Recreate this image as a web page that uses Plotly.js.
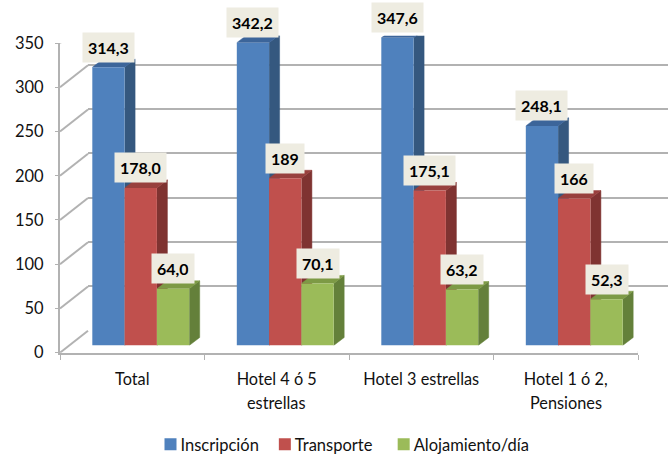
<!DOCTYPE html>
<html><head><meta charset="utf-8">
<script src="https://cdn.plot.ly/plotly-3.0.1.min.js"></script>
<style>html,body{margin:0;padding:0;background:#fff}</style></head>
<body><div id="chart" style="width:668px;height:454px"></div>
<script>
const categories = ["Total","Hotel 4 ó 5","Hotel 3 estrellas","Hotel 1 ó 2,"];
const categoriesLine2 = ["","estrellas","","Pensiones"];
const inscripcion = [314.3,342.2,347.6,248.1];
const transporte = [178.0,189,175.1,166];
const alojamiento = [64.0,70.1,63.2,52.3];
const inscripcionLabels = ["314,3","342,2","347,6","248,1"];
const transporteLabels = ["178,0","189","175,1","166"];
const alojamientoLabels = ["64,0","70,1","63,2","52,3"];
const yTicks = [0,50,100,150,200,250,300,350];

const W=668,H=454;
const fx=p=>p/W, fy=p=>1-p/H;
const FONT='Lato, Carlito, sans-serif', GRID='#b2b2b2', INK='#111111';
const series=[
 {name:'Inscripción',v:inscripcion,l:inscripcionLabels,front:'#4f81bd',side:'#35587f',top:'#3c659a'},
 {name:'Transporte',v:transporte,l:transporteLabels,front:'#c0504d',side:'#7f3331',top:'#98403d'},
 {name:'Alojamiento/día',v:alojamiento,l:alojamientoLabels,front:'#9bbb59',side:'#64803a',top:'#7d9a45'}
];
const barW=0.2235, pxX=144.5, pxY=0.885, depthX=10.5/pxX, depthY=8/pxY;
const xs=[0.5,1.5,2.5,3.5];
const traces=[];
// back wall grid (first subplot)
traces.push({x:[0,1],y:[0,0],xaxis:'x',yaxis:'y',mode:'none',showlegend:false,hoverinfo:'skip'});
// side and top faces
series.forEach((s,k)=>{
  const sx=[],sy=[],tx=[],ty=[];
  s.v.forEach((v,i)=>{
    const l=xs[i]+(k-1.5)*barW, r=l+barW;
    sx.push(r,r+depthX,r+depthX,r,null); sy.push(0,depthY,v+depthY,v,null);
    tx.push(l,l+depthX,r+depthX,r,null); ty.push(v,v+depthY,v+depthY,v,null);
  });
  traces.push({x:sx,y:sy,xaxis:'x2',yaxis:'y2',mode:'lines',fill:'toself',fillcolor:s.side,line:{width:0.5,color:s.side},showlegend:false,hoverinfo:'skip'});
  traces.push({x:tx,y:ty,xaxis:'x2',yaxis:'y2',mode:'lines',fill:'toself',fillcolor:s.top,line:{width:0.5,color:s.top},showlegend:false,hoverinfo:'skip'});
});
// front faces
series.forEach(s=>traces.push({type:'bar',name:s.name,x:xs,y:s.v,xaxis:'x3',yaxis:'y3',marker:{color:s.front,line:{width:0}},hoverinfo:'skip'}));
// side wall diagonals and floor
const wx=28/pxX, wy=22/pxY, dx=[],dy=[];
yTicks.forEach(t=>{dx.push(0,wx,null);dy.push(t,t+wy,null);});
dx.push(4,4+wx,null);dy.push(0,wy,null);
traces.push({x:dx,y:dy,xaxis:'x4',yaxis:'y4',mode:'lines',line:{color:GRID,width:2},showlegend:false,hoverinfo:'skip',cliponaxis:false});

const annotations=[];
series.forEach((s,k)=>s.v.forEach((v,i)=>annotations.push({
  x:xs[i]+(k-1)*barW,y:v,xref:'x3',yref:'y3',text:'<b>'+s.l[i]+'</b>',showarrow:false,yshift:20,
  bgcolor:'#eeece1',borderpad:5,height:19,font:{family:FONT,size:16,color:'#000'}
})));
categoriesLine2.forEach((t,i)=>{ if(t) annotations.push({
  x:xs[i],xref:'x4',y:fy(402),yref:'paper',text:t,showarrow:false,yanchor:'middle',font:{family:FONT,size:16.3,color:INK}});});

const hidden={visible:false,fixedrange:true};
const layout={
 width:W,height:H,margin:{l:0,r:0,t:0,b:0},paper_bgcolor:'#fff',plot_bgcolor:'rgba(0,0,0,0)',
 barmode:'group',bargap:1-3*barW,bargroupgap:0,
 font:{family:FONT,color:INK},
 xaxis:{domain:[fx(88),1],range:[0,1],visible:false,fixedrange:true},
 yaxis:{domain:[fy(330),fy(21)],range:[0,350],tickvals:yTicks,showgrid:true,gridcolor:GRID,gridwidth:2,zeroline:false,showticklabels:false,ticks:'',showline:false,fixedrange:true},
 xaxis2:{...hidden,domain:[fx(68.5),fx(646.5)],range:[0,4],anchor:'y2'},
 yaxis2:{...hidden,domain:[fy(345.5),fy(345.5-350*pxY)],range:[0,350],anchor:'x2'},
 xaxis3:{...hidden,domain:[fx(68.5),fx(646.5)],range:[0,4],anchor:'y3'},
 yaxis3:{...hidden,domain:[fy(345.5),fy(345.5-350*pxY)],range:[0,350],anchor:'x3'},
 xaxis4:{domain:[fx(60),fx(638)],range:[0,4],anchor:'y4',tickmode:'array',tickvals:xs,ticktext:categories,ticks:'',
   showline:true,linecolor:GRID,linewidth:2,showgrid:false,zeroline:false,tickfont:{family:FONT,size:16.3,color:INK},ticklabelstandoff:11,
   minor:{tickvals:[0,1,2,3,4],ticks:'outside',ticklen:5,tickcolor:GRID,tickwidth:1,showgrid:false},fixedrange:true},
 yaxis4:{domain:[fy(352.7),fy(43)],range:[0,350],anchor:'x4',tickmode:'array',tickvals:yTicks,ticks:'outside',ticklen:3,tickcolor:GRID,tickwidth:1,ticklabelstandoff:8,
   showline:true,linecolor:GRID,linewidth:2,showgrid:false,zeroline:false,tickfont:{family:FONT,size:16.5,color:INK},fixedrange:true},
 legend:{orientation:'h',x:0.5,xanchor:'center',y:0,yanchor:'bottom',font:{family:FONT,size:16.5,color:INK},itemwidth:30,traceorder:'normal',bgcolor:'rgba(0,0,0,0)'},
 annotations
};
Plotly.newPlot('chart',traces,layout,{displayModeBar:false,staticPlot:true}).then(()=>{
  const nudge=(el,ax,ay)=>{
    const m=/translate\(\s*([-\d.]+)[ ,]+([-\d.]+)\s*\)/.exec(el.getAttribute('transform')||'')||[0,0,0];
    el.setAttribute('transform','translate('+(+m[1]+ax)+','+(+m[2]+ay)+')');
  };
  document.querySelectorAll('.legend .legendpoints').forEach(el=>el.setAttribute('transform','translate(10,0)'));
  const lg=document.querySelector('.legend');
  if(lg) nudge(lg,0,8);
  const itemShift=[10,1,-3];
  document.querySelectorAll('.legend .traces').forEach((el,i)=>nudge(el,itemShift[i]||0,0));
});
</script></body></html>
